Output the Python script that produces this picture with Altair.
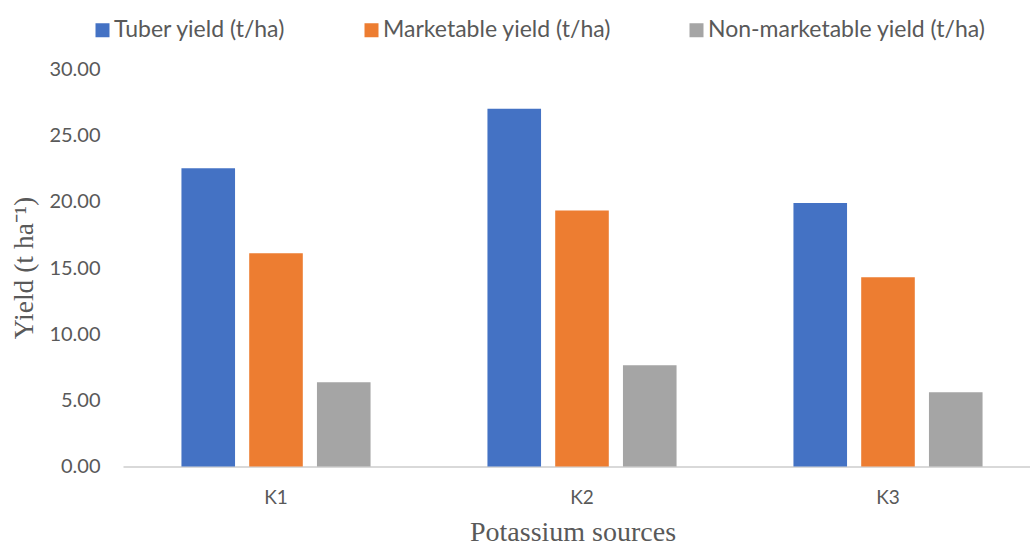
import altair as alt
import pandas as pd

# Potato yield by potassium source (t/ha)
sources = ["K1", "K2", "K3"]
series = ["Tuber yield (t/ha)", "Marketable yield (t/ha)", "Non-marketable yield (t/ha)"]
tuber_yield = [22.54, 27.04, 19.92]
marketable_yield = [16.12, 19.34, 14.31]
non_marketable_yield = [6.37, 7.66, 5.62]
colors = ["#4472C4", "#ED7D31", "#A5A5A5"]

rows = []
for i, src in enumerate(sources):
    for name, vals in zip(series, [tuber_yield, marketable_yield, non_marketable_yield]):
        rows.append({"source": src, "series": name, "yield": vals[i]})
df = pd.DataFrame(rows)

SANS = "Lato"
SERIF = "Liberation Serif"
GREY = "#595959"

chart = (
    alt.Chart(df)
    .mark_bar()
    .encode(
        x=alt.X(
            "source:N",
            sort=sources,
            scale=alt.Scale(range=[0, 918], paddingInner=0.382, paddingOuter=0.191),
            axis=alt.Axis(
                title="Potassium sources",
                titleFont=SERIF,
                titleFontSize=28,
                titleFontWeight="normal",
                titleColor=GREY,
                titleX=449.5,
                titleY=74,
                titleAlign="center",
                titleBaseline="alphabetic",
                labelFont=SANS,
                labelFontSize=19,
                labelColor=GREY,
                labelAngle=0,
                labelPadding=22,
                ticks=False,
                tickSize=0,
                domainColor="#D9D9D9",
                domainWidth=2,
                grid=False,
            ),
        ),
        xOffset=alt.XOffset(
            "series:N",
            sort=series,
            scale=alt.Scale(paddingInner=0.209, paddingOuter=0),
        ),
        y=alt.Y(
            "yield:Q",
            scale=alt.Scale(domain=[0, 30], nice=False),
            axis=alt.Axis(
                title="Yield (t ha⁻¹)",
                titleFont=SERIF,
                titleFontSize=27.5,
                titleFontWeight="normal",
                titleColor=GREY,
                titleAngle=270,
                titleX=-99,
                titleY=198,
                titleAlign="center",
                titleBaseline="middle",
                values=[0, 5, 10, 15, 20, 25, 30],
                format=".2f",
                labelFont=SANS,
                labelFontSize=20,
                labelColor=GREY,
                labelPadding=23,
                ticks=False,
                tickSize=0,
                domain=False,
                grid=False,
            ),
        ),
        color=alt.Color(
            "series:N",
            sort=series,
            scale=alt.Scale(domain=series, range=colors),
            legend=alt.Legend(
                title=None,
                orient="none",
                direction="horizontal",
                legendX=-32,
                legendY=-51,
                padding=0,
                symbolType="square",
                symbolSize=196,
                symbolStrokeWidth=0,
                labelFont=SANS,
                labelFontSize=23,
                labelColor=GREY,
                labelOffset=0,
                columnPadding=74,
                labelLimit=400,
            ),
        ),
    )
    .properties(
        width=907,
        height=397,
        autosize=alt.AutoSizeParams(type="none"),
        padding={"left": 123, "top": 69.5, "right": 0, "bottom": 83.5},
        background="white",
    )
    .configure_view(stroke=None)
)

chart.save("out.html", embed_options={"renderer": "svg", "actions": False})
